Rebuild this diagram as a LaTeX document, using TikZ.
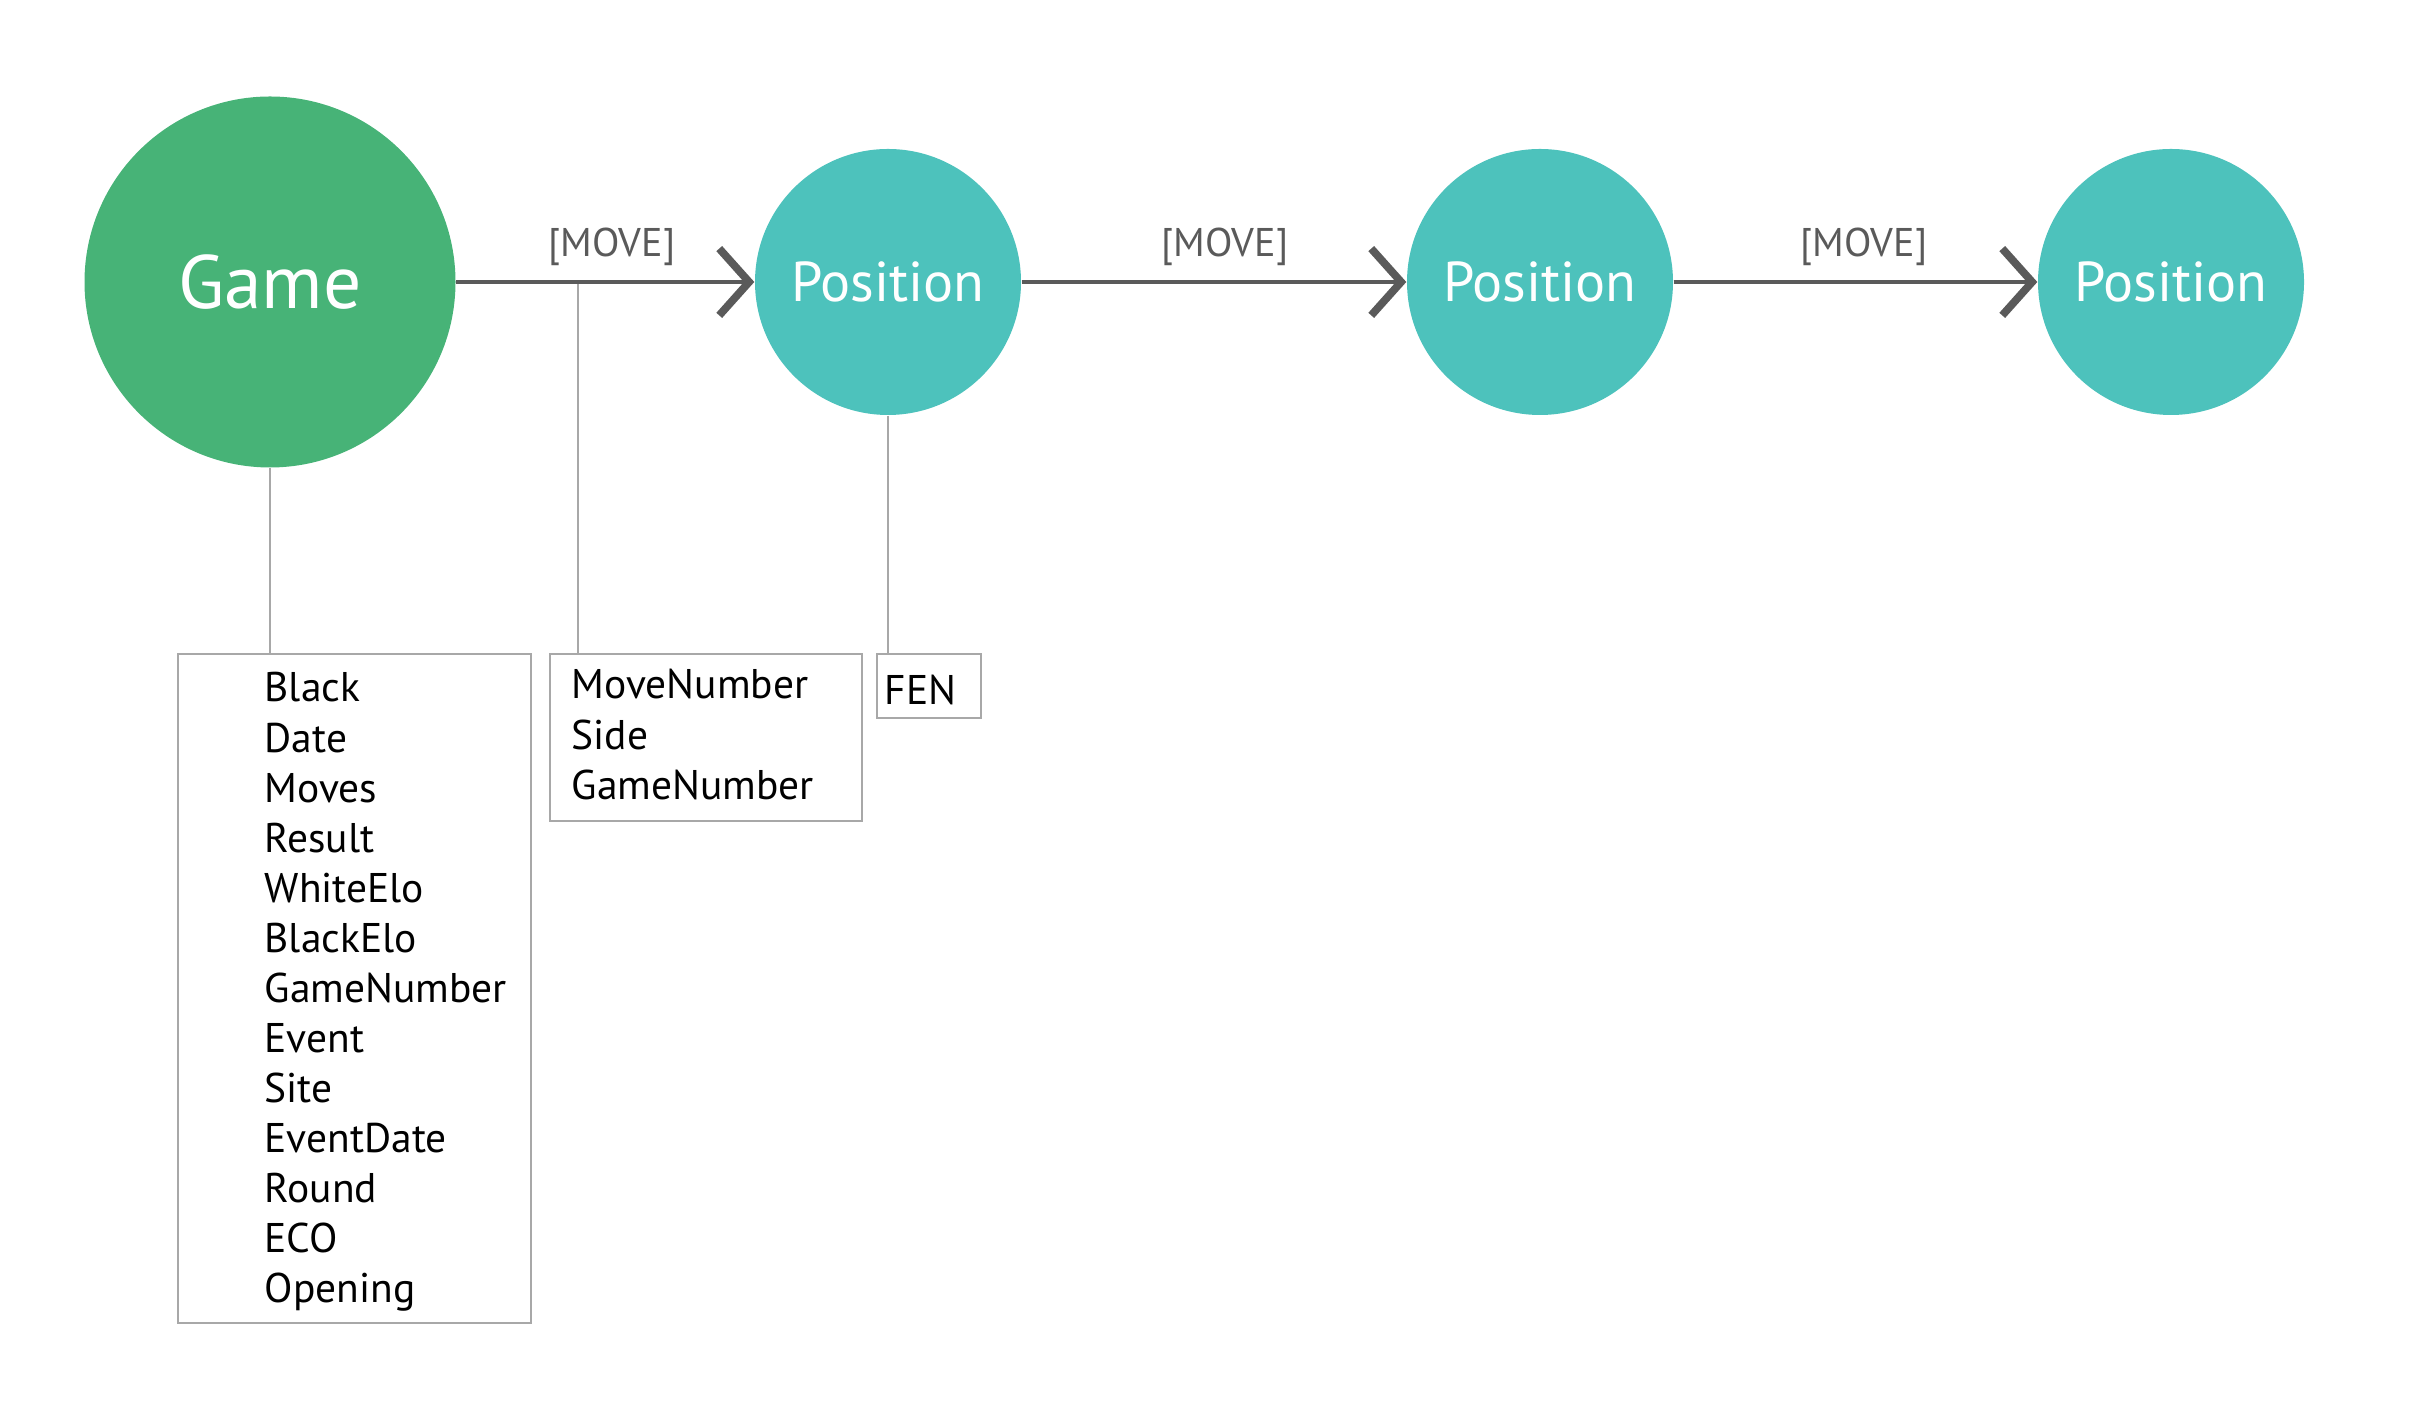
\documentclass[tikz,border=0pt]{standalone}
\usepackage{fontspec}
\setmainfont{PT Sans}
\usetikzlibrary{arrows.meta}
\definecolor{gamegreen}{HTML}{47B377}
\definecolor{posteal}{HTML}{4DC2BC}
\definecolor{relgray}{HTML}{5A5A5A}
\definecolor{linegray}{HTML}{A8A8A8}
\begin{document}
\begin{tikzpicture}[x=1cm,y=1cm,
	gamenode/.style={circle,fill=gamegreen,text=white,minimum size=3.71cm,inner sep=0pt,font=\fontsize{21.5}{25}\selectfont},
	posnode/.style={circle,fill=posteal,text=white,minimum size=2.66cm,inner sep=0pt,font=\fontsize{16}{19}\selectfont},
	rel/.style={draw=relgray,line width=1.1pt,-{Straight Barb[length=8.5pt,width=19pt,line width=2.2pt]}},
	rellabel/.style={text=relgray,anchor=base,inner sep=0pt,font=\fontsize{11.4}{13}\selectfont},
	propline/.style={draw=linegray,line width=0.55pt},
	propbox/.style={draw=linegray,line width=0.6pt,anchor=north west,inner sep=0pt},
	proplist/.style={anchor=base west,align=left,inner sep=0pt,text width=3cm,font=\fontsize{11.8}{14.23}\selectfont}]
	\useasboundingbox (0,0) rectangle (24.31,14.26);
	% nodes of the chain
	\node[gamenode] (game) at (2.70,11.44) {Game};
	\node[posnode]  (pos1) at (8.88,11.44)  {Position};
	\node[posnode]  (pos2) at (15.40,11.44) {Position};
	\node[posnode]  (pos3) at (21.71,11.44) {Position};
	% property boxes
	\node[propbox,minimum width=3.53cm,minimum height=6.69cm] (gbox) at (1.77,7.73) {};
	\node[propbox,minimum width=3.12cm,minimum height=1.67cm] (mbox) at (5.49,7.73) {};
	\node[propbox,minimum width=1.04cm,minimum height=0.64cm] (pbox) at (8.76,7.73) {};
	\node[proplist] (glist) at (2.64,7.24) {Black\\Date\\Moves\\Result\\WhiteElo\\BlackElo\\GameNumber\\Event\\Site\\EventDate\\Round\\ECO\\Opening};
	\node[proplist] (mlist) at (5.71,7.27) {MoveNumber\\Side\\GameNumber};
	\node[proplist] (plist) at (8.84,7.21) {FEN};
	% connectors to the boxes
	\coordinate (mv1) at (5.78,11.43);
	\draw[propline] (game) -- (game |- gbox.north);
	\draw[propline] (mv1) -- (mv1 |- mbox.north);
	\draw[propline] (pos1) -- (pos1 |- pbox.north);
	% relationships
	\draw[rel] (game) -- (pos1);
	\draw[rel] (pos1) -- (pos2);
	\draw[rel] (pos2) -- (pos3);
	\node[rellabel] (mlab1) at (6.12,11.69)  {[MOVE]};
	\node[rellabel] (mlab2) at (12.25,11.69) {[MOVE]};
	\node[rellabel] (mlab3) at (18.64,11.69) {[MOVE]};
\end{tikzpicture}
\end{document}
